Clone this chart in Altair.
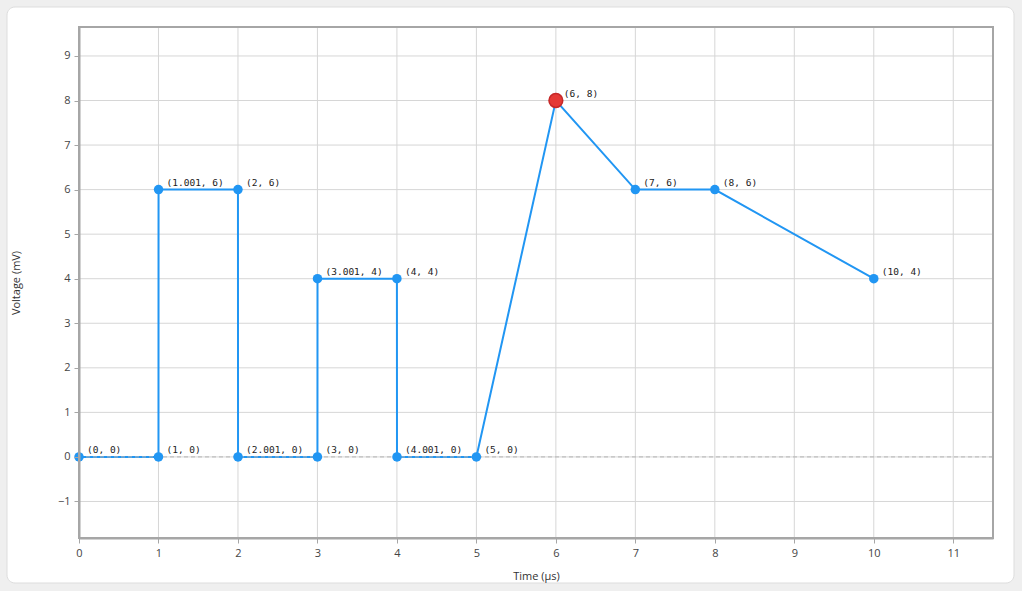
import altair as alt
import pandas as pd

time_us = [0, 1, 1.001, 2, 2.001, 3, 3.001, 4, 4.001, 5, 6, 7, 8, 10]
voltage_mv = [0, 0, 6, 6, 0, 0, 4, 4, 0, 0, 8, 6, 6, 4]
point_labels = ["(0, 0)", "(1, 0)", "(1.001, 6)", "(2, 6)", "(2.001, 0)", "(3, 0)",
                "(3.001, 4)", "(4, 4)", "(4.001, 0)", "(5, 0)", "(6, 8)", "(7, 6)",
                "(8, 6)", "(10, 4)"]
highlight_index = 10

x_ticks = list(range(0, 12))
y_ticks = list(range(-1, 10))
x_domain = [0, 11.5]
y_domain = [-1.82, 9.65]

W, H = 914, 511

df = pd.DataFrame({
    "t": time_us,
    "v": voltage_mv,
    "label": point_labels,
    "order": list(range(len(time_us))),
    "hl": [i == highlight_index for i in range(len(time_us))],
})
gx = pd.DataFrame({"t": x_ticks})
gy = pd.DataFrame({"v": y_ticks})
zero = pd.DataFrame({"v": [0]})

xs = alt.Scale(domain=x_domain, nice=False, zero=False)
ys = alt.Scale(domain=y_domain, nice=False, zero=False)

axis_common = dict(
    domainColor="#a6a6a6", domainWidth=2, tickColor="#a6a6a6", tickSize=5,
    labelColor="#444444", labelFont="Open Sans", labelFontSize=11,
    titleColor="#333333", titleFont="Open Sans", titleFontSize=11,
    titleFontWeight="normal", grid=False, zindex=1, labelFlush=False,
)

card = alt.Chart(zero).mark_rect(
    fill="white", stroke="#dddddd", strokeWidth=1, cornerRadius=8
).encode(
    x=alt.value(-72), x2=alt.value(935), y=alt.value(-20), y2=alt.value(556)
)

vgrid = alt.Chart(gx).mark_rule(color="#d6d6d6", strokeWidth=1).encode(
    x=alt.X("t:Q", scale=xs,
            axis=alt.Axis(values=x_ticks, format="d", title="Time (μs)",
                          titlePadding=12, labelPadding=4, **axis_common)),
)
hgrid = alt.Chart(gy).mark_rule(color="#d6d6d6", strokeWidth=1).encode(
    y=alt.Y("v:Q", scale=ys,
            axis=alt.Axis(values=y_ticks, format="d", title="Voltage (mV)",
                          titlePadding=36, labelPadding=4, **axis_common)),
)

line = alt.Chart(df).mark_line(color="#2196f3", strokeWidth=2).encode(
    x=alt.X("t:Q", scale=xs), y=alt.Y("v:Q", scale=ys), order="order:Q"
)

zero_rule = alt.Chart(zero).mark_rule(
    color="#b5b5b5", strokeDash=[4, 3], strokeWidth=1
).encode(y=alt.Y("v:Q", scale=ys))

pts = alt.Chart(df).transform_filter("!datum.hl").mark_circle(
    size=90, color="#2196f3", opacity=1
).encode(x=alt.X("t:Q", scale=xs), y=alt.Y("v:Q", scale=ys))

hl_pt = alt.Chart(df).transform_filter("datum.hl").mark_point(
    filled=True, shape="circle", size=190, fill="#e53935", stroke="#c62828",
    strokeWidth=1.5, opacity=1
).encode(x=alt.X("t:Q", scale=xs), y=alt.Y("v:Q", scale=ys))

labels = alt.Chart(df).mark_text(
    align="left", baseline="middle", dx=8, dy=-7,
    font="DejaVu Sans Mono", fontSize=9.5, color="#222222"
).encode(x=alt.X("t:Q", scale=xs), y=alt.Y("v:Q", scale=ys), text="label:N")

frame = alt.Chart(zero).mark_rect(
    fill=None, fillOpacity=0, stroke="#a6a6a6", strokeWidth=2
).encode(x=alt.value(0), x2=alt.value(W), y=alt.value(0), y2=alt.value(H))

chart = alt.layer(
    card, vgrid, hgrid, line, zero_rule, pts, hl_pt, labels, frame
).properties(
    width=W, height=H,
    background="#efefef",
    autosize=alt.AutoSizeParams(type="none"),
    padding={"left": 79, "top": 27, "right": 29, "bottom": 53},
).configure_view(stroke=None)

chart.save("out.html", embed_options={"renderer": "svg", "actions": False})
